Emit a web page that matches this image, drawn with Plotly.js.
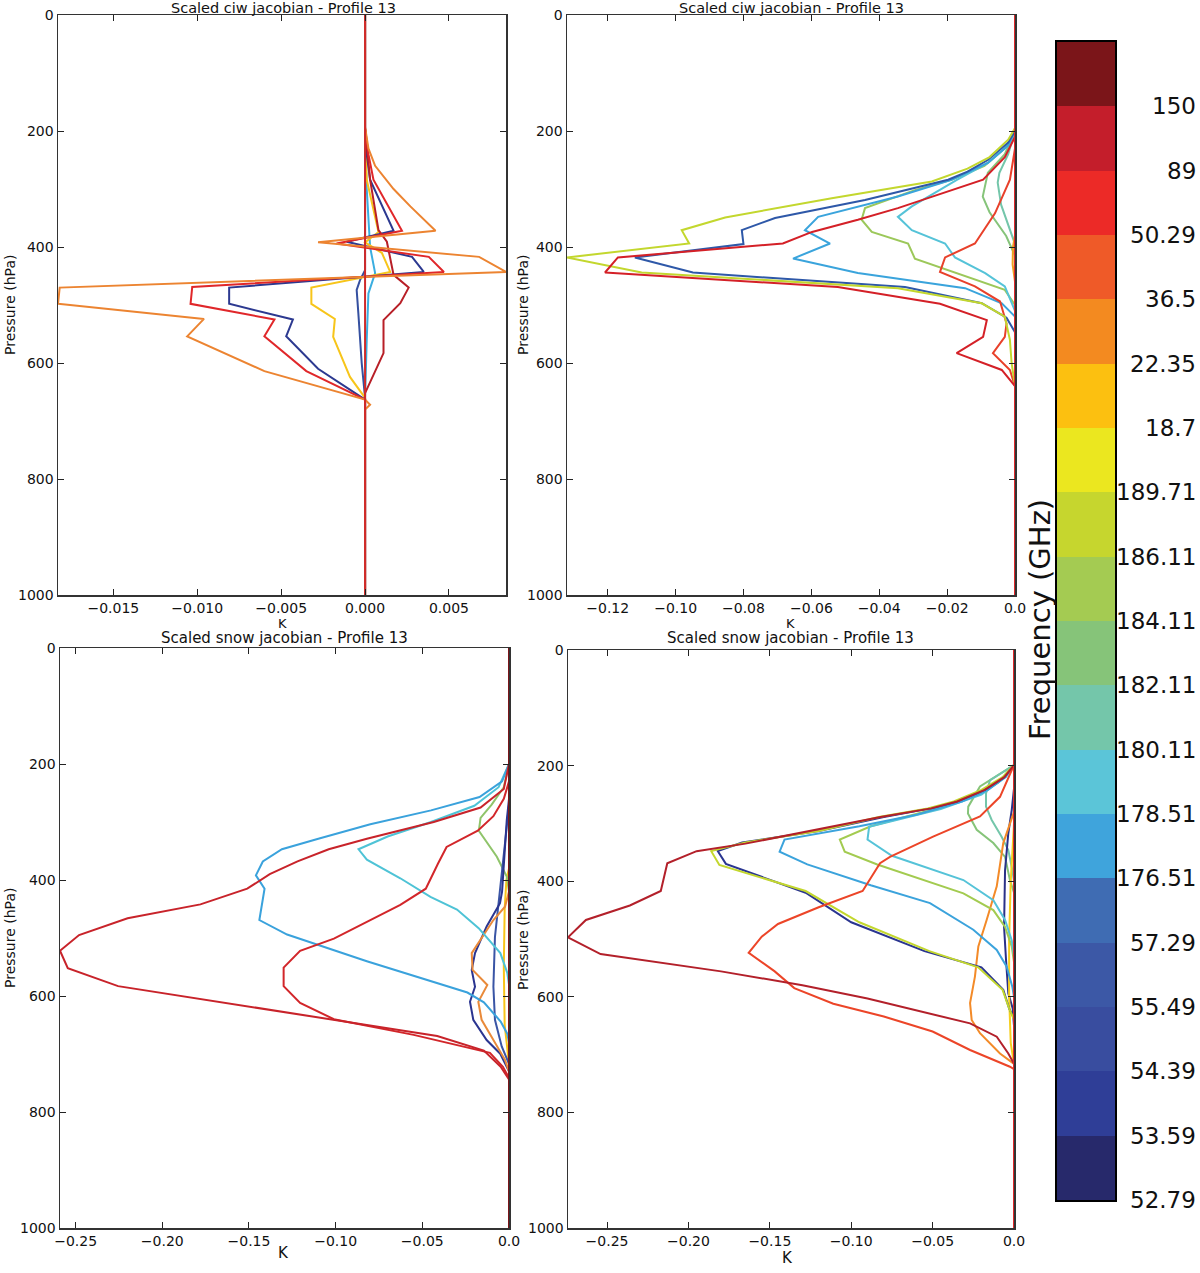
<!DOCTYPE html>
<html>
<head>
<meta charset="utf-8">
<script src="https://cdn.plot.ly/plotly-3.0.1.min.js"></script>
<style>html,body{margin:0;padding:0;background:#fff;}#chart{width:1200px;height:1273px;}</style>
</head>
<body>
<div id="chart"></div>
<script>
// ---------- Top-left: Scaled ciw jacobian (pressure hPa, K) ----------
const tl_navy_p = [0,440,457,474,514,600,660,1000];
const tl_navy_k = [0,0,-0.0003,-0.0005,-0.0004,-0.0002,0,0];
const tl_cyan_p = [0,195,300,400,445,480,560,660,1000];
const tl_cyan_k = [0,0,0.0001,0.0003,0.0006,0.0002,0.0001,0,0];
const tl_yellow_p = [0,195,284,374,392,410,443,470,498,524,555,624,660,1000];
const tl_yellow_k = [0,0,0.0001,0.0008,0.0000,0.0010,0.0015,-0.0032,-0.0032,-0.0018,-0.0019,-0.0009,0,0];
const tl_blue_p = [0,195,240,284,372,391,417,443,470,498,525,554,610,663,1000];
const tl_blue_k = [0,0,0.0001,0.0003,0.0017,-0.0011,0.0028,0.0035,-0.0081,-0.0081,-0.0043,-0.0047,-0.0028,0,0];
const tl_darkred_p = [0,195,284,371,391,405,448,470,497,526,583,652,1000];
const tl_darkred_k = [0,0,0.0003,0.0008,0.0013,0.0014,0.0017,0.0026,0.0021,0.0011,0.0011,0,0];
const tl_red_p = [0,195,240,284,372,394,417,443,469,498,525,554,614,663,1000];
const tl_red_k = [0,0,0.0002,0.0005,0.0022,-0.0017,0.0038,0.0047,-0.0103,-0.0104,-0.0054,-0.0060,-0.0035,0,0];
const tl_orange_p = [0,193,230,260,300,330,372,392,417,443,470,498,524,554,614,663,672,680,1000];
const tl_orange_k = [0,0,0.0002,0.0006,0.0017,0.0027,0.0042,-0.0028,0.0068,0.0084,-0.0182,-0.0183,-0.0096,-0.0106,-0.0060,0,0.0003,0,0];
const tl_zero_p = [0,1000];
const tl_zero_k = [0,0];

// ---------- Top-right: Scaled ciw jacobian ----------
const tr_sage_p = [0,200,240,272,313,340,381,415,1000];
const tr_sage_k = [0,0,-0.003,-0.008,-0.0095,-0.0075,-0.0026,0,0];
const tr_teal_p = [0,200,240,272,289,327,395,1000];
const tr_teal_k = [0,0,-0.002,-0.0046,-0.0051,-0.0041,0,0];
const tr_orange_p = [0,380,400,430,460,1000];
const tr_orange_k = [0,0,-0.0006,-0.0007,0,0];
const tr_green_p = [0,200,230,260,284,302,333,353,374,394,420,474,500,1000];
const tr_green_k = [0,0,-0.003,-0.009,-0.0187,-0.0295,-0.0442,-0.0452,-0.0422,-0.0315,-0.0295,-0.003,0,0];
const tr_cyan_p = [0,200,225,255,284,330,348,371,394,418,445,468,510,1000];
const tr_cyan_k = [0,0,-0.002,-0.008,-0.017,-0.0304,-0.0345,-0.0304,-0.0206,-0.0177,-0.0088,-0.003,0,0];
const tr_lblue_p = [0,200,225,255,284,313,348,371,394,420,445,471,497,520,1000];
const tr_lblue_k = [0,0,-0.002,-0.008,-0.0187,-0.0345,-0.058,-0.0619,-0.0545,-0.0654,-0.0463,-0.0147,-0.0039,0,0];
const tr_ored_p = [0,230,284,342,394,418,443,468,494,532,555,583,612,640,1000];
const tr_ored_k = [0,0,-0.0015,-0.0059,-0.0118,-0.0206,-0.0221,-0.0118,-0.0044,-0.0025,-0.003,-0.0065,-0.0015,0,0];
const tr_blue_p = [0,200,220,250,270,284,319,350,371,395,418,444,469,497,522,547,1000];
const tr_blue_k = [0,0,-0.002,-0.008,-0.014,-0.0197,-0.0442,-0.0707,-0.0805,-0.080,-0.112,-0.0949,-0.0324,-0.0098,-0.0025,0,0];
const tr_yg_p = [0,195,215,245,265,287,316,349,371,394,418,444,471,497,520,560,600,640,1000];
const tr_yg_k = [0,0,-0.002,-0.0075,-0.014,-0.0245,-0.054,-0.0854,-0.0982,-0.096,-0.132,-0.110,-0.0345,-0.0098,-0.003,-0.0015,-0.001,0,0];
const tr_red_p = [0,210,245,284,333,353,374,394,418,444,469,498,526,555,583,612,640,1000];
const tr_red_k = [0,0,-0.003,-0.0094,-0.0345,-0.0463,-0.0598,-0.0684,-0.117,-0.1208,-0.0522,-0.0221,-0.0083,-0.0094,-0.0172,-0.0039,0,0];
const tr_zero_p = [0,1000];
const tr_zero_k = [0,0];

// ---------- Bottom-left: Scaled snow jacobian ----------
const bl_yellow_p = [0,380,400,450,550,650,690,720,1000];
const bl_yellow_k = [0,0,-0.0015,-0.0025,-0.003,-0.0025,-0.001,0,0];
const bl_green_p = [0,200,240,270,293,315,360,394,420,1000];
const bl_green_k = [0,0,-0.003,-0.01,-0.0164,-0.0174,-0.007,-0.0013,0,0];
const bl_blue2_p = [0,270,300,380,440,498,584,641,687,717,1000];
const bl_blue2_k = [0,0,-0.001,-0.004,-0.0062,-0.0081,-0.009,-0.0081,-0.0042,0,0];
const bl_navy_p = [0,260,297,380,420,440,480,526,555,584,610,641,676,699,730,1000];
const bl_navy_k = [0,0,-0.0013,-0.003,-0.004,-0.0052,-0.0129,-0.0196,-0.0215,-0.0196,-0.0225,-0.0206,-0.0129,-0.0052,0,0];
const bl_orange_p = [0,420,446,469,526,555,581,610,641,676,710,730,1000];
const bl_orange_k = [0,0,-0.0023,-0.009,-0.0215,-0.021,-0.0125,-0.0177,-0.0158,-0.009,-0.0023,0,0];
const bl_cyan_p = [0,200,240,272,300,325,347,365,397,429,451,483,526,560,580,1000];
const bl_cyan_k = [0,0,-0.006,-0.02,-0.045,-0.07,-0.0868,-0.082,-0.0627,-0.0453,-0.030,-0.0175,-0.005,-0.001,0,0];
const bl_lblue_p = [0,200,230,257,280,304,329,347,368,392,415,469,494,540,594,611,644,665,680,1000];
const bl_lblue_k = [0,0,-0.004,-0.017,-0.045,-0.080,-0.11,-0.131,-0.142,-0.146,-0.141,-0.144,-0.128,-0.082,-0.024,-0.0145,-0.0048,-0.001,0,0];
const bl_midred_p = [0,230,260,290,315,343,372,415,443,472,501,522,551,583,612,640,667,698,722,741,1000];
const bl_midred_k = [0,0,-0.003,-0.009,-0.018,-0.036,-0.041,-0.048,-0.0627,-0.082,-0.101,-0.1205,-0.130,-0.130,-0.1205,-0.101,-0.055,-0.011,-0.0035,0,0];
const bl_bigred_p = [0,200,243,275,300,329,347,368,390,415,442,466,495,522,552,583,669,694,722,744,1000];
const bl_bigred_k = [0,0,-0.003,-0.0164,-0.0434,-0.082,-0.104,-0.122,-0.138,-0.151,-0.178,-0.22,-0.248,-0.259,-0.2545,-0.2255,-0.0414,-0.0145,-0.0048,0,0];
const bl_zero_p = [0,1000];
const bl_zero_k = [0,0];

// ---------- Bottom-right: Scaled snow jacobian ----------
const br_sage_p = [0,199,236,271,283,311,334,358,398,420,1000];
const br_sage_k = [0,0,-0.0209,-0.0281,-0.0283,-0.0229,-0.0127,-0.0055,-0.0025,0,0];
const br_teal_p = [0,199,225,248,271,294,323,346,381,400,1000];
const br_teal_k = [0,0,-0.0147,-0.0172,-0.0172,-0.0137,-0.0076,-0.0035,-0.001,0,0];
const br_navy2_p = [0,240,277,317,381,479,536,594,620,650,1000];
const br_navy2_k = [0,0,-0.0014,-0.0035,-0.0055,-0.0061,-0.0049,-0.0035,-0.0008,0,0];
const br_yellow_p = [0,300,400,500,600,680,716,1000];
const br_yellow_k = [0,0,-0.002,-0.003,-0.003,-0.002,0,0];
const br_orange_p = [0,280,334,409,467,513,565,611,640,663,698,716,1000];
const br_orange_k = [0,0,-0.0066,-0.0106,-0.0168,-0.0219,-0.024,-0.027,-0.026,-0.0209,-0.0086,0,0];
const br_green_p = [0,199,230,255,280,305,328,349,371,421,450,479,513,540,1000];
const br_green_k = [0,0,-0.01,-0.027,-0.055,-0.088,-0.107,-0.104,-0.084,-0.0311,-0.0127,-0.0055,-0.0014,0,0];
const br_cyan_p = [0,199,225,250,275,306,328,356,398,433,467,502,530,1000];
const br_cyan_k = [0,0,-0.008,-0.02,-0.045,-0.089,-0.090,-0.075,-0.0311,-0.0127,-0.0055,-0.0014,0,0];
const br_lblue_p = [0,199,220,242,262,285,305,328,349,371,407,438,484,519,548,583,600,1000];
const br_lblue_k = [0,0,-0.005,-0.016,-0.032,-0.06,-0.095,-0.141,-0.144,-0.127,-0.088,-0.0516,-0.025,-0.0106,-0.0045,-0.001,0,0];
const br_navy_p = [0,199,220,242,262,274,289,313,333,348,370,420,471,521,549,588,620,637,1000];
const br_navy_k = [0,0,-0.006,-0.018,-0.035,-0.051,-0.08,-0.12,-0.167,-0.182,-0.177,-0.128,-0.100,-0.055,-0.02,-0.0066,-0.003,0,0];
const br_yg_p = [0,199,220,242,262,274,289,313,333,348,372,417,471,521,549,588,620,640,1000];
const br_yg_k = [0,0,-0.007,-0.02,-0.037,-0.053,-0.083,-0.12,-0.165,-0.186,-0.181,-0.128,-0.095,-0.052,-0.022,-0.007,-0.003,0,0];
const br_ored_p = [0,199,254,288,323,358,369,395,417,445,474,496,524,556,585,612,634,660,692,721,725,1000];
const br_ored_k = [0,0,-0.0086,-0.0209,-0.0497,-0.0762,-0.0823,-0.088,-0.093,-0.12,-0.145,-0.155,-0.163,-0.147,-0.135,-0.111,-0.08,-0.05,-0.027,-0.0025,0,0];
const br_darkred_p = [0,199,220,242,262,274,289,313,335,348,369,417,442,467,497,526,556,580,603,646,669,698,716,1000];
const br_darkred_k = [0,0,-0.006,-0.018,-0.035,-0.051,-0.082,-0.125,-0.165,-0.195,-0.213,-0.217,-0.236,-0.263,-0.274,-0.254,-0.18,-0.13,-0.09,-0.027,-0.0106,-0.0035,0,0];
const br_zero_p = [0,1000];
const br_zero_k = [0,0];

// ---------- Frequency colour key (bottom to top) ----------
const freqLabels = ['52.79','53.59','54.39','55.49','57.29','176.51','178.51','180.11','182.11','184.11','186.11','189.71','18.7','22.35','36.5','50.29','89','150'];
const freqColors = ['#27296b','#2f3e97','#394d9f','#3c58a6','#3f6cb3','#3fa4dc','#5bc5d8','#74c6aa','#86c479','#a4cb52','#c6d62e','#ebe71f','#fcc010','#f38a20','#ef5a28','#ec2a27','#c41e2b','#7b1519'];

// ---------- Axis tick labels ----------
const pressureTicks = [0,200,400,600,800,1000];
const tlTickVals = [-0.015,-0.010,-0.005,0,0.005];
const tlTickText = ['\u22120.015','\u22120.010','\u22120.005','0.000','0.005'];
const trTickVals = [-0.12,-0.10,-0.08,-0.06,-0.04,-0.02,0];
const trTickText = ['\u22120.12','\u22120.10','\u22120.08','\u22120.06','\u22120.04','\u22120.02','0.0'];
const bTickVals = [-0.25,-0.20,-0.15,-0.10,-0.05,0];
const bTickText = ['\u22120.25','\u22120.20','\u22120.15','\u22120.10','\u22120.05','0.0'];

// ---------- Series styling (which data, which panel, which colour) ----------
const series = [
  [tl_navy_k, tl_navy_p, 1, '#3550a0'],
  [tl_cyan_k, tl_cyan_p, 1, '#3aaee0'],
  [tl_yellow_k, tl_yellow_p, 1, '#f7c51a'],
  [tl_blue_k, tl_blue_p, 1, '#2c3990'],
  [tl_darkred_k, tl_darkred_p, 1, '#b81f27'],
  [tl_red_k, tl_red_p, 1, '#e0272a'],
  [tl_orange_k, tl_orange_p, 1, '#ec8431'],
  [tl_zero_k, tl_zero_p, 1, '#cf2a2a'],

  [tr_sage_k, tr_sage_p, 2, '#86c47a'],
  [tr_teal_k, tr_teal_p, 2, '#74c6aa'],
  [tr_orange_k, tr_orange_p, 2, '#f0a020'],
  [tr_green_k, tr_green_p, 2, '#9cc85a'],
  [tr_cyan_k, tr_cyan_p, 2, '#55c3d8'],
  [tr_lblue_k, tr_lblue_p, 2, '#3aa4dc'],
  [tr_ored_k, tr_ored_p, 2, '#e8402a'],
  [tr_blue_k, tr_blue_p, 2, '#2e58a8'],
  [tr_yg_k, tr_yg_p, 2, '#c3d72e'],
  [tr_red_k, tr_red_p, 2, '#d42027'],
  [tr_zero_k, tr_zero_p, 2, '#e0282a'],

  [bl_yellow_k, bl_yellow_p, 3, '#f8c41a'],
  [bl_green_k, bl_green_p, 3, '#8fc46a'],
  [bl_blue2_k, bl_blue2_p, 3, '#3a55a5'],
  [bl_navy_k, bl_navy_p, 3, '#2b3590'],
  [bl_orange_k, bl_orange_p, 3, '#e98a3a'],
  [bl_cyan_k, bl_cyan_p, 3, '#4ec3d6'],
  [bl_lblue_k, bl_lblue_p, 3, '#3aa2dc'],
  [bl_midred_k, bl_midred_p, 3, '#d2262a'],
  [bl_bigred_k, bl_bigred_p, 3, '#c8232a'],
  [bl_zero_k, bl_zero_p, 3, '#7b1519'],

  [br_sage_k, br_sage_p, 4, '#86c47a'],
  [br_teal_k, br_teal_p, 4, '#74c6aa'],
  [br_navy2_k, br_navy2_p, 4, '#2a3188'],
  [br_yellow_k, br_yellow_p, 4, '#f5cf1e'],
  [br_orange_k, br_orange_p, 4, '#f38a28'],
  [br_green_k, br_green_p, 4, '#a3cb50'],
  [br_cyan_k, br_cyan_p, 4, '#55c3d8'],
  [br_lblue_k, br_lblue_p, 4, '#3ba3dc'],
  [br_navy_k, br_navy_p, 4, '#2a3590'],
  [br_yg_k, br_yg_p, 4, '#c3d72e'],
  [br_ored_k, br_ored_p, 4, '#ec4528'],
  [br_darkred_k, br_darkred_p, 4, '#b3202a'],
  [br_zero_k, br_zero_p, 4, '#e0282a']
];

const W = 1200, H = 1273;
const fx = v => v / W;
const fy = v => 1 - v / H;
const FONT = 'DejaVu Sans, Liberation Sans, sans-serif';

const traces = series.map(s => ({
  type: 'scatter', mode: 'lines',
  x: s[0], y: s[1],
  xaxis: s[2] === 1 ? 'x' : 'x' + s[2],
  yaxis: s[2] === 1 ? 'y' : 'y' + s[2],
  line: {color: s[3], width: 2},
  hoverinfo: 'skip', showlegend: false, cliponaxis: true
}));

// colour key drawn as a one-column heatmap
const keyIdx = freqLabels.map((_, i) => i);
const keyScale = freqColors.map((c, i) => [i / (freqColors.length - 1), c]);
traces.push({
  type: 'heatmap', x: [0], y: keyIdx.map(i => i + 0.5), z: keyIdx.map(i => [i]),
  zmin: 0, zmax: freqColors.length - 1, colorscale: keyScale, showscale: false,
  xaxis: 'x5', yaxis: 'y5', hoverinfo: 'skip', xgap: 0, ygap: 0
});

function xax(domain, range, tv, tt, anchor) {
  return {domain: domain, range: range, anchor: anchor, tickvals: tv, ticktext: tt,
    ticks: 'inside', ticklen: 6, tickwidth: 1, tickcolor: '#222',
    showline: true, linecolor: '#333', linewidth: 1.5, mirror: 'ticks',
    showgrid: false, zeroline: false, tickfont: {family: FONT, size: 14, color: '#111'}};
}
function yax(domain, anchor) {
  return {domain: domain, range: [1000, 0], anchor: anchor, tickvals: pressureTicks,
    ticks: 'inside', ticklen: 6, tickwidth: 1, tickcolor: '#222',
    showline: true, linecolor: '#333', linewidth: 1.5, mirror: 'ticks',
    showgrid: false, zeroline: false, tickfont: {family: FONT, size: 14, color: '#111'}};
}

const layout = {
  width: W, height: H, margin: {l: 0, r: 0, t: 0, b: 0},
  paper_bgcolor: '#fff', plot_bgcolor: '#fff', showlegend: false,
  xaxis:  xax([fx(58), fx(506)], [-0.0183, 0.0084], tlTickVals, tlTickText, 'y'),
  yaxis:  yax([fy(595), fy(15)], 'x'),
  xaxis2: xax([fx(567), fx(1015)], [-0.132, 0], trTickVals, trTickText, 'y2'),
  yaxis2: yax([fy(595), fy(15)], 'x2'),
  xaxis3: xax([fx(60), fx(509)], [-0.259, 0], bTickVals, bTickText, 'y3'),
  yaxis3: yax([fy(1228), fy(648)], 'x3'),
  xaxis4: xax([fx(568), fx(1014)], [-0.274, 0], bTickVals, bTickText, 'y4'),
  yaxis4: yax([fy(1228), fy(650)], 'x4'),
  xaxis5: {domain: [fx(1057), fx(1115)], range: [-0.5, 0.5], anchor: 'y5', showticklabels: false,
    ticks: '', showline: true, linecolor: '#000', linewidth: 2, mirror: true, showgrid: false, zeroline: false},
  yaxis5: {domain: [fy(1200), fy(42)], range: [0, freqLabels.length], anchor: 'x5', showticklabels: false,
    ticks: '', showline: true, linecolor: '#000', linewidth: 2, mirror: true, showgrid: false, zeroline: false},
  annotations: []
};

const A = layout.annotations;
function txt(text, x, y, size, opts) {
  A.push(Object.assign({text: text, x: fx(x), y: fy(y), xref: 'paper', yref: 'paper',
    showarrow: false, xanchor: 'center', yanchor: 'middle',
    font: {family: FONT, size: size, color: '#111'}}, opts || {}));
}
const ttl1 = 'Scaled ciw jacobian - Profile 13';
const ttl2 = 'Scaled snow jacobian - Profile 13';
txt(ttl1, 283, 8, 14.5);
txt(ttl1, 791, 8, 14.5);
txt(ttl2, 284, 638, 15);
txt(ttl2, 790, 638, 15);
txt('K', 282, 623, 13);
txt('K', 790, 623, 13);
txt('K', 283, 1253, 15);
txt('K', 787, 1258, 15);
txt('Pressure (hPa)', 10, 305, 14, {textangle: -90});
txt('Pressure (hPa)', 523, 305, 14, {textangle: -90});
txt('Pressure (hPa)', 10, 938, 14, {textangle: -90});
txt('Pressure (hPa)', 523, 940, 14, {textangle: -90});
txt('Frequency (GHz)', 1040, 620, 29, {textangle: -90});
freqLabels.forEach((lab, i) => {
  A.push({text: lab, x: fx(1198), xref: 'paper', y: i, yref: 'y5', xanchor: 'right', yanchor: 'middle',
    showarrow: false, font: {family: FONT, size: 23, color: '#111'}});
});

Plotly.newPlot('chart', traces, layout, {staticPlot: true, displayModeBar: false});
</script>
</body>
</html>
